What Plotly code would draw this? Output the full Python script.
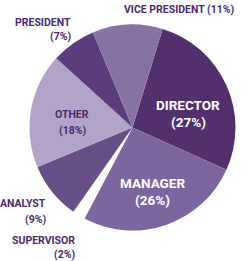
import plotly.graph_objects as go

# ---- data ----
labels = ["Director", "Manager", "Supervisor", "Analyst", "Other", "President", "Vice President"]
values = [27, 26, 2, 9, 18, 7, 11]
colors = ["#52306e", "#7d65a0", "#ffffff", "#684e87", "#b2a4c8", "#5b3d7d", "#8772a4"]

W, H = 249, 261
FONT = "Roboto, sans-serif"
DARK = "#4b2a6e"

# pie placement (pixels)
cx, cy, r = 132.5, 127.5, 103

fig = go.Figure(go.Pie(
    labels=labels, values=values, sort=False, direction="clockwise", rotation=17,
    marker=dict(colors=colors, line=dict(width=0)),
    textinfo="none", hoverinfo="label+percent",
    domain=dict(x=[(cx - r) / W, (cx + r) / W], y=[1 - (cy + r) / H, 1 - (cy - r) / H]),
    showlegend=False,
))

def px(x, y):
    return x / W, 1 - y / H

def add(text, x, y, size, color, anchor="center"):
    ax, ay = px(x, y)
    fig.add_annotation(x=ax, y=ay, xref="paper", yref="paper", text=f"<b>{text}</b>",
                       showarrow=False, xanchor=anchor, yanchor="middle",
                       font=dict(family=FONT, size=size, color=color))

pct = {l: f"({v}%)" for l, v in zip(labels, values)}
up = {l: l.upper() for l in labels}

IN, OUT = 13.5, 10.5
# inside labels
add(up["Director"], 188, 105, IN, "white")
add(pct["Director"], 188, 122, IN, "white")
add(up["Manager"], 152, 183, IN, "white")
add(pct["Manager"], 152, 200, IN, "white")
# outside / dark labels
add(f'{up["Vice President"]} {pct["Vice President"]}', 179, 10, OUT, DARK)
add(up["President"], 73, 23, OUT, DARK, "right")
add(pct["President"], 73, 37, OUT, DARK, "right")
add(up["Other"], 72, 115, OUT, DARK)
add(pct["Other"], 72, 130, OUT, DARK)
add(up["Analyst"], 48, 203, OUT, DARK, "right")
add(pct["Analyst"], 48, 219, OUT, DARK, "right")
add(up["Supervisor"], 77, 240, OUT, DARK, "right")
add(pct["Supervisor"], 77, 254, OUT, DARK, "right")

fig.update_layout(width=W, height=H, margin=dict(l=0, r=0, t=0, b=0),
                  paper_bgcolor="white", plot_bgcolor="white")
fig.write_html("out.html")
